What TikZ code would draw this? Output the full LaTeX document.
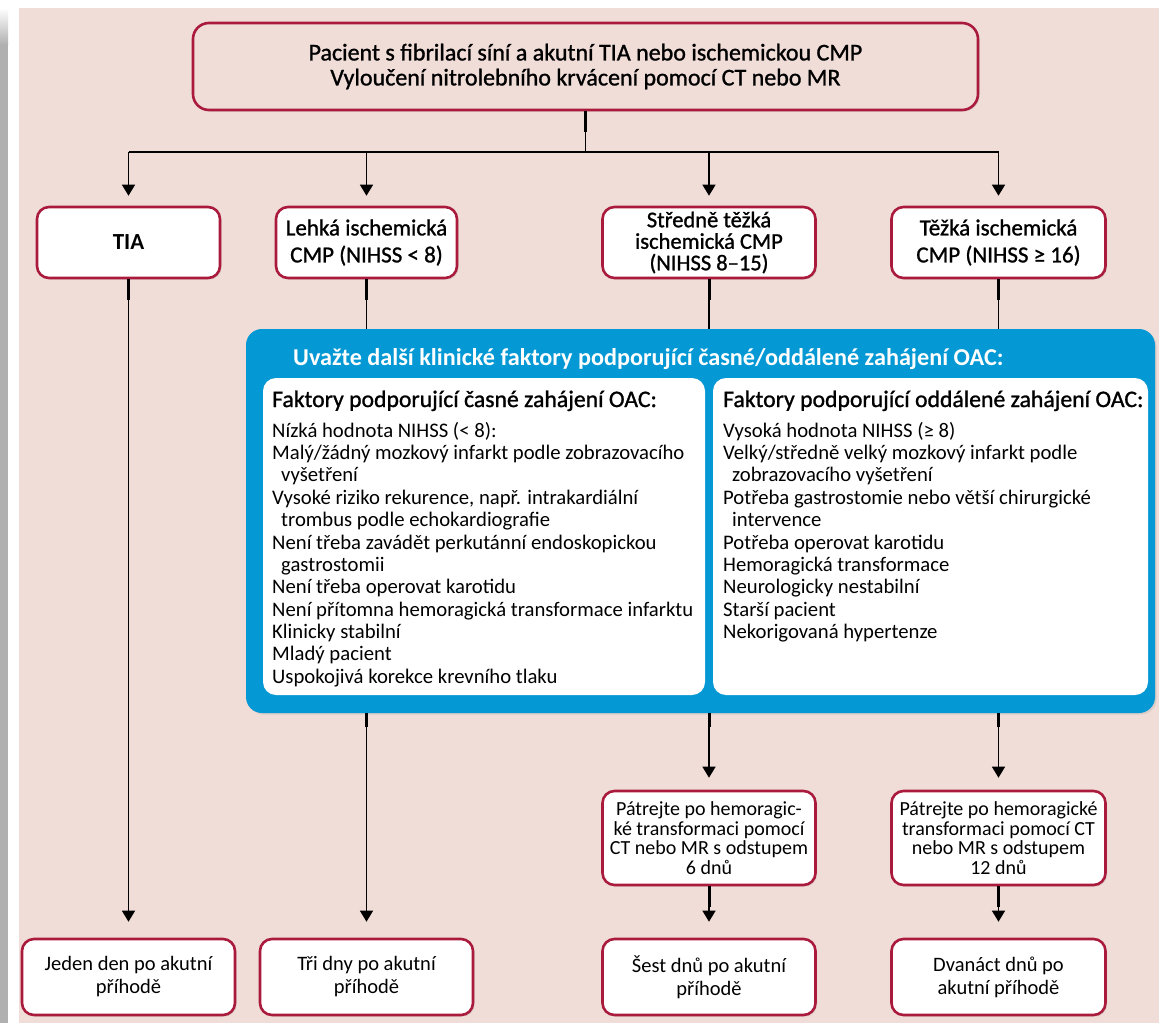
\documentclass[tikz,border=0pt]{standalone}
\usepackage{fontspec}
\setmainfont{Carlito}
\newfontfamily\medfont[FakeBold=1.1]{Carlito}
\usetikzlibrary{arrows.meta,shadows,calc}

\definecolor{bgpink}{RGB}{240,221,216}
\definecolor{boxred}{RGB}{170,26,60}
\definecolor{oacblue}{RGB}{4,152,212}
\definecolor{framegray}{RGB}{176,176,176}

\begin{document}
\begin{tikzpicture}[x=1pt,y=-1pt,
  box/.style={draw=boxred, line width=2.6pt, fill=white, rounded corners=12pt,
    inner sep=0pt, align=center,
    drop shadow={opacity=0.18, shadow xshift=1.6pt, shadow yshift=-1.6pt}},
  stagebox/.style={box, minimum height=71pt, font=\medfont\fontsize{23}{27}\selectfont},
  checkbox/.style={box, minimum height=94pt, font=\fontsize{20}{19.5}\selectfont},
  daybox/.style={box, minimum height=76pt, font=\fontsize{20.5}{23}\selectfont},
  panel/.style={fill=white, rounded corners=13pt, minimum height=317pt, inner sep=0pt},
  listtext/.style={inner sep=0pt, align=left, anchor=north west,
    font=\fontsize{20.7}{22.36}\selectfont},
  panelhead/.style={inner sep=0pt, anchor=base west, font=\medfont\fontsize{23.7}{26}\selectfont},
  conn/.style={line width=1.3pt, black},
  stub/.style={line width=3pt, black},
  arr/.style={conn, -{Triangle[width=13pt,length=11pt]}},
]
\useasboundingbox (0,0) rectangle (1159,1023);

% page background with its framed edge
\fill[white] (0,0) rectangle (1159,1023);
\shade[top color=white, bottom color=framegray] (0,8) rectangle (8,45);
\fill[framegray] (0,45) rectangle (8,1023);
\fill[bgpink] (19,8) rectangle (1159,1023);

% entry box
\node[box, fill=bgpink, rounded corners=16pt, minimum width=785pt, minimum height=87pt,
      font=\medfont\fontsize{24}{25}\selectfont] (top) at (585.5,66.5)
  {Pacient s fibrilací síní a akutní TIA nebo ischemickou CMP\\
   Vyloučení nitrolebního krvácení pomocí CT nebo MR};

% stroke severity
\node[stagebox, minimum width=183pt, font=\bfseries\fontsize{23}{27}\selectfont] (tia) at (128.5,242.5) {TIA};
\node[stagebox, minimum width=181pt] (lehka) at (366.5,242.5) {Lehká ischemická\\CMP (NIHSS < 8)};
\node[stagebox, minimum width=213pt, font=\medfont\fontsize{22.5}{21.5}\selectfont] (stredne) at (709,242.5)
  {Středně těžká\\ischemická CMP\\(NIHSS 8–15)};
\node[stagebox, minimum width=214pt] (tezka) at (998.5,242.5) {Těžká ischemická\\CMP (NIHSS ≥ 16)};

% clinical factors panel
\node[fill=oacblue, rounded corners=16pt, minimum width=909pt, minimum height=384pt, inner sep=0pt,
      drop shadow={opacity=0.18, shadow xshift=1.6pt, shadow yshift=-1.6pt}] (oac) at (700.5,521) {};
\node[inner sep=0pt, anchor=base west, text=white, font=\bfseries\fontsize{24.2}{26}\selectfont] (oachead) at (293,365)
  {Uvažte další klinické faktory podporující časné/oddálené zahájení OAC:};
\node[panel, minimum width=442pt] (early) at (484,536.5) {};
\node[panel, minimum width=435pt] (late) at (930.5,536.5) {};

\node[panelhead] (earlyhead) at (272,407) {Faktory podporující časné zahájení OAC:};
\node[listtext] (earlylist) at (272,421.4)
  {\strut Nízká hodnota NIHSS (< 8):\\
   Malý/žádný mozkový infarkt podle zobrazovacího\\
   \hspace*{9pt}vyšetření\\
   Vysoké riziko rekurence, např. intrakardiální\\
   \hspace*{9pt}trombus podle echokardiografie\\
   Není třeba zavádět perkutánní endoskopickou\\
   \hspace*{9pt}gastrostomii\\
   Není třeba operovat karotidu\\
   Není přítomna hemoragická transformace infarktu\\
   Klinicky stabilní\\
   Mladý pacient\\
   Uspokojivá korekce krevního tlaku};

\node[panelhead] (latehead) at (723,407) {Faktory podporující oddálené zahájení OAC:};
\node[listtext] (latelist) at (723,421.4)
  {\strut Vysoká hodnota NIHSS (≥ 8)\\
   Velký/středně velký mozkový infarkt podle\\
   \hspace*{9pt}zobrazovacího vyšetření\\
   Potřeba gastrostomie nebo větší chirurgické\\
   \hspace*{9pt}intervence\\
   Potřeba operovat karotidu\\
   Hemoragická transformace\\
   Neurologicky nestabilní\\
   Starší pacient\\
   Nekorigovaná hypertenze};

% imaging follow-up
\node[checkbox, minimum width=213pt] (check6) at (709,838)
  {Pátrejte po hemoragic-\\ké transformaci pomocí\\CT nebo MR s odstupem\\6 dnů};
\node[checkbox, minimum width=214pt] (check12) at (998.5,838)
  {Pátrejte po hemoragické\\transformaci pomocí CT\\nebo MR s odstupem\\12 dnů};

% start of anticoagulation
\node[daybox, minimum width=213pt] (jeden) at (128.5,977) {Jeden den po akutní\\příhodě};
\node[daybox, minimum width=213pt] (tri) at (366.5,977) {Tři dny po akutní\\příhodě};
\node[daybox, minimum width=213pt] (sest) at (709,977) {Šest dnů po akutní\\příhodě};
\node[daybox, minimum width=214pt] (dvanact) at (998.5,977) {Dvanáct dnů po\\akutní příhodě};

% branching from the entry box
\coordinate (split) at (585.5,152);
\draw[conn] (top.south) -- (split);
\draw[conn] (split -| tia) -- (split -| tezka);
\foreach \n in {tia,lehka,stredne,tezka}
  \draw[arr, shorten >=10pt] (split -| \n) -- (\n.north);

% vertical connectors
\draw[arr, shorten >=16pt] (tia.south) -- (jeden.north);
\draw[conn] (lehka.south) -- (lehka.south |- oac.north);
\draw[arr, shorten >=16pt] (lehka.south |- oac.south) -- (tri.north);
\draw[conn] (stredne.south) -- (stredne.south |- oac.north);
\draw[arr, shorten >=12pt] (stredne.south |- oac.south) -- (check6.north);
\draw[arr, shorten >=16pt] (check6.south) -- (sest.north);
\draw[conn] (tezka.south) -- (tezka.south |- oac.north);
\draw[arr, shorten >=12pt] (tezka.south |- oac.south) -- (check12.north);
\draw[arr, shorten >=16pt] (check12.south) -- (dvanact.north);

% heavier stubs where lines leave a box
\foreach \n in {top,tia,lehka,stredne,tezka,check6,check12}
  \draw[stub] (\n.south) -- ++(0,21);
\foreach \n in {lehka,stredne,tezka}
  \draw[stub] (\n.south |- oac.south) -- ++(0,14);
\end{tikzpicture}
\end{document}
